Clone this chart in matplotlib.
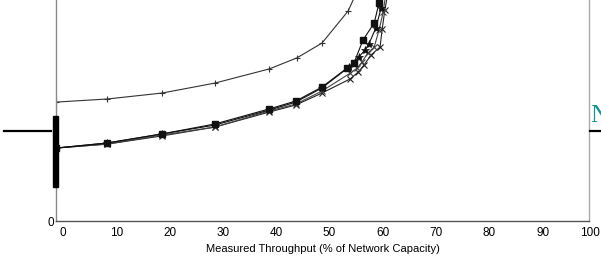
import matplotlib.pyplot as plt
import matplotlib.transforms as mtransforms
from matplotlib.lines import Line2D
from matplotlib.patches import Rectangle

# Measured throughput (% of network capacity) vs delay (arbitrary units)
x_plus = [0, 9.6, 19.9, 29.8, 40.0, 45.2, 49.9, 54.8, 56.7]
y_plus = [53.8, 55.2, 57.9, 62.4, 68.8, 73.8, 80.5, 95.0, 105.0]

x_sq = [0, 9.6, 19.9, 29.8, 40.0, 45.0, 49.9, 54.6, 55.9, 57.6, 59.7, 60.6, 61.2]
y_sq = [33.0, 35.3, 39.4, 43.9, 50.7, 54.3, 60.6, 69.2, 71.5, 81.9, 89.6, 98.6, 104.5]

x_star = [0, 9.6, 19.9, 29.8, 40.0, 45.0, 49.9, 55.0, 56.8, 58.0, 58.7, 60.0, 61.0, 61.5]
y_star = [33.0, 35.3, 39.4, 43.4, 50.2, 53.8, 60.2, 69.7, 74.2, 77.4, 80.1, 87.3, 96.4, 104.5]

x_xa = [0, 9.6, 19.9, 29.8, 40.0, 45.0, 49.9, 55.2, 56.5, 57.4, 58.5, 59.7, 60.6, 61.4, 61.9]
y_xa = [33.0, 34.8, 38.9, 42.5, 49.8, 52.9, 58.8, 66.9, 69.2, 71.9, 76.0, 78.7, 86.4, 94.6, 103.6]

x_xb = [0, 9.6, 19.9, 29.8, 40.0, 45.0, 49.9, 55.2, 56.7, 57.8, 59.1, 60.8, 61.2, 61.7, 62.3]
y_xb = [33.0, 34.8, 38.5, 42.5, 49.3, 52.5, 57.9, 64.3, 67.4, 70.6, 75.1, 78.7, 86.9, 95.5, 103.6]

xticks = [0, 10, 20, 30, 40, 50, 60, 70, 80, 90, 100]

W, H = 601, 263
fig = plt.figure(figsize=(W / 100, H / 100), dpi=100)
ax = fig.add_axes([56 / W, (H - 221) / H, (589 - 56) / W, 221 / H])
ax.set_zorder(1)

ax.plot(x_plus, y_plus, color='#333333', lw=0.8, marker='+', ms=5, mew=0.8)
ax.plot(x_xb, y_xb, color='#222222', lw=0.8, marker='x', ms=4, mew=0.8)
ax.plot(x_xa, y_xa, color='#444444', lw=0.8, marker='x', ms=4, mew=0.8)
ax.plot(x_star, y_star, color='#111111', lw=0.8, marker='*', ms=6, mew=0.5)
ax.plot(x_sq, y_sq, color='#111111', lw=0.8, marker='s', ms=4.5)

ax.set_xlim(0, 100)
ax.set_ylim(0, 100)
ax.set_xticks(xticks)
ax.set_yticks([0])
ax.tick_params(length=0, labelsize=8.5, pad=4)
ax.tick_params(axis='y', pad=1)
for lab in ax.get_xticklabels() + ax.get_yticklabels():
    lab.set_fontfamily('Liberation Sans')
for v, lab in zip(xticks, ax.get_xticklabels()):
    dx = 1 if v == 100 else 7
    shift = mtransforms.ScaledTranslation(dx / 100, 0, fig.dpi_scale_trans)
    lab.set_transform(lab.get_transform() + shift)

ax.spines['top'].set_visible(False)
ax.spines['left'].set_color('#888888')
ax.spines['right'].set_color('#aaaaaa')
ax.spines['bottom'].set_color('#555555')
for s in ax.spines.values():
    s.set_linewidth(1.0)

ax.set_xlabel('Measured Throughput (% of Network Capacity)', fontsize=8,
              family='Liberation Sans', labelpad=4)

# slide decorations around the plot
fig.add_artist(Line2D([4 / W, 51 / W], [(H - 131) / H] * 2, color='black', lw=1.6))
fig.add_artist(Line2D([590 / W, 1.0], [(H - 131) / H] * 2, color='black', lw=1.6))
fig.add_artist(Rectangle((53 / W, (H - 187) / H), 5 / W, 71 / H, color='black', zorder=2))
fig.text(590 / W, (H - 122) / H, 'A', color='#1a9090', fontsize=18,
         family='Liberation Serif', ha='right', va='baseline', zorder=0)
fig.text(590 / W, (H - 122) / H, 'N', color='#1a9090', fontsize=18,
         family='Liberation Serif', ha='left', va='baseline', zorder=0)

fig.savefig('out.png', dpi=100)
